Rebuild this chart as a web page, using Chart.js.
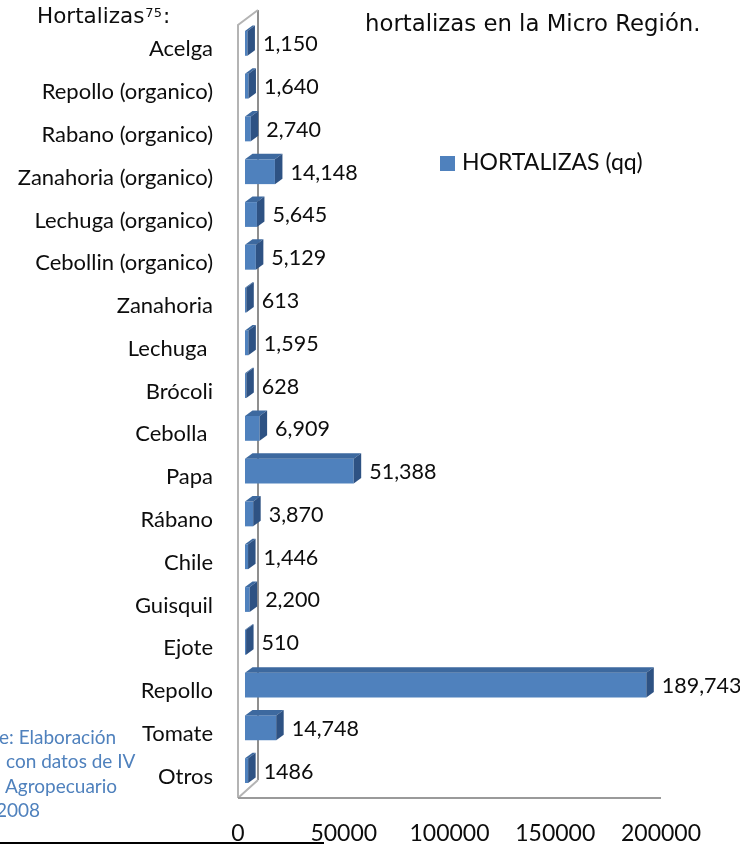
<!DOCTYPE html>
<html>
<head>
<meta charset="utf-8">
<script src="https://cdn.jsdelivr.net/npm/chart.js@4.4.1/dist/chart.umd.min.js"></script>
<style>
  html, body { margin: 0; padding: 0; background: #ffffff; }
  #wrap { position: relative; width: 740px; height: 844px; overflow: hidden; }
  canvas { position: absolute; left: 0; top: 0; }
</style>
</head>
<body>
<div id="wrap"><canvas id="chart" width="740" height="844"></canvas></div>
<script>
// Hortalizas producidas en la Micro Región (quintales)
const categories = [
  'Acelga', 'Repollo (organico)', 'Rabano (organico)', 'Zanahoria (organico)',
  'Lechuga (organico)', 'Cebollin (organico)', 'Zanahoria', 'Lechuga ', 'Brócoli',
  'Cebolla ', 'Papa', 'Rábano', 'Chile', 'Guisquil', 'Ejote', 'Repollo', 'Tomate', 'Otros'
];
const quantities = [
  1150, 1640, 2740, 14148, 5645, 5129, 613, 1595, 628,
  6909, 51388, 3870, 1446, 2200, 510, 189743, 14748, 1486
];
// rows whose value label is printed without a thousands separator
const plainValueRows = ['Otros'];
const seriesName = 'HORTALIZAS (qq)';
const axisMax = 200000;
const axisStep = 50000;

const sourceLines = ['e: Elaboración', 'con datos de IV', 'Agropecuario', '2008'];

const FRONT = '#4F81BD';
const TOP = '#3D699F';
const SIDE = '#2E5283';
const DX = 7.5, DY = -5.5;   // depth offset of the 3D faces
const INK = '#0d0d0d';

function valueText(i) {
  const v = quantities[i];
  return plainValueRows.includes(categories[i]) ? String(v) : v.toLocaleString('en-US');
}

// side wall and floor outline behind the bars
const wallPlugin = {
  id: 'wall',
  beforeDatasetsDraw(chart) {
    const { ctx, chartArea: a, scales: { x } } = chart;
    const fx = x.getPixelForValue(0) - 7;   // front edge
    const bx = fx + 20;                      // back edge
    const topF = a.top + 3, topB = topF - 15;
    const botF = a.bottom + 6, botB = botF - 18;
    const endX = x.getPixelForValue(axisMax) - 7;
    ctx.save();
    ctx.lineWidth = 2;
    ctx.strokeStyle = '#8f8f8f';
    ctx.beginPath();
    ctx.moveTo(bx, topB); ctx.lineTo(bx, botB);
    ctx.stroke();
    ctx.strokeStyle = '#b4b4b4';
    ctx.beginPath();
    ctx.moveTo(fx, botF); ctx.lineTo(fx, topF); ctx.lineTo(bx, topB);
    ctx.moveTo(fx, botF); ctx.lineTo(bx, botB);
    ctx.stroke();
    ctx.strokeStyle = '#9a9a9a';
    ctx.beginPath();
    ctx.moveTo(fx, botF); ctx.lineTo(endX, botF);
    ctx.stroke();
    ctx.restore();
  }
};

// top and side faces of every bar, plus the value labels
const facesPlugin = {
  id: 'faces',
  afterDatasetsDraw(chart) {
    const { ctx } = chart;
    const meta = chart.getDatasetMeta(0);
    ctx.save();
    meta.data.forEach((bar, i) => {
      const { x, y, base, height } = bar.getProps(['x', 'y', 'base', 'height'], true);
      const t = y - height / 2, b = y + height / 2;
      ctx.fillStyle = TOP;
      ctx.beginPath();
      ctx.moveTo(base, t); ctx.lineTo(base + DX, t + DY);
      ctx.lineTo(x + DX, t + DY); ctx.lineTo(x, t);
      ctx.closePath(); ctx.fill();
      ctx.fillStyle = SIDE;
      ctx.beginPath();
      ctx.moveTo(x, t); ctx.lineTo(x + DX, t + DY);
      ctx.lineTo(x + DX, b + DY); ctx.lineTo(x, b);
      ctx.closePath(); ctx.fill();

      ctx.fillStyle = INK;
      ctx.font = '21.5px Lato';
      ctx.textAlign = 'left';
      ctx.textBaseline = 'middle';
      ctx.fillText(valueText(i), x + DX + 8, y + 1);
    });
    ctx.restore();
  }
};

// headings, legend and source note around the plot
const notesPlugin = {
  id: 'notes',
  afterDraw(chart) {
    const { ctx } = chart;
    ctx.save();
    ctx.textAlign = 'left';
    ctx.textBaseline = 'alphabetic';
    ctx.fillStyle = INK;

    ctx.font = '21.5px "DejaVu Sans"';
    ctx.fillText('Hortalizas', 37, 23);
    let w = ctx.measureText('Hortalizas').width;
    ctx.font = '13px "DejaVu Sans"';
    ctx.fillText('75', 37 + w + 1, 17);
    const w2 = ctx.measureText('75').width;
    ctx.font = '21.5px "DejaVu Sans"';
    ctx.fillText(':', 37 + w + 1 + w2 + 1, 23);

    ctx.font = '22.8px "DejaVu Sans"';
    ctx.fillText('hortalizas en la Micro Región.', 365, 31);

    ctx.fillStyle = FRONT;
    ctx.fillRect(440, 156, 15, 15);
    ctx.fillStyle = INK;
    ctx.font = '23px Lato';
    ctx.fillText(seriesName, 462, 170);

    ctx.fillStyle = FRONT;
    ctx.font = '19px Lato';
    const xs = [-1, 6, 5, -4];
    const ys = [744, 768, 793, 817];
    sourceLines.forEach((s, i) => ctx.fillText(s, xs[i], ys[i]));

    ctx.fillStyle = '#000';
    ctx.fillRect(0, 842, 324, 2);
    ctx.restore();
  }
};

new Chart(document.getElementById('chart'), {
  type: 'bar',
  data: {
    labels: categories,
    datasets: [{
      label: seriesName,
      data: quantities,
      backgroundColor: FRONT,
      borderWidth: 0,
      barPercentage: 0.58,
      categoryPercentage: 1
    }]
  },
  options: {
    indexAxis: 'y',
    responsive: false,
    animation: false,
    layout: { padding: { top: 22, right: 72, bottom: 0, left: 0 } },
    plugins: { legend: { display: false }, tooltip: { enabled: false } },
    scales: {
      x: {
        min: 0,
        max: axisMax,
        grid: { display: false, drawTicks: false },
        border: { display: false },
        ticks: {
          stepSize: axisStep,
          labelOffset: -7,
          padding: 28,
          color: INK,
          font: { family: 'Lato', size: 23 },
          callback: v => String(v)
        },
        afterFit: s => { s.height = 52; s.paddingLeft = 0; s.paddingRight = 0; }
      },
      y: {
        grid: { display: false, drawTicks: false },
        border: { display: false },
        ticks: {
          padding: 32,
          labelOffset: 6,
          color: INK,
          font: { family: 'Lato', size: 22 },
          autoSkip: false
        },
        afterFit: s => { s.width = 245; s.paddingTop = 0; s.paddingBottom = 0; }
      }
    }
  },
  plugins: [wallPlugin, facesPlugin, notesPlugin]
});
</script>
</body>
</html>
